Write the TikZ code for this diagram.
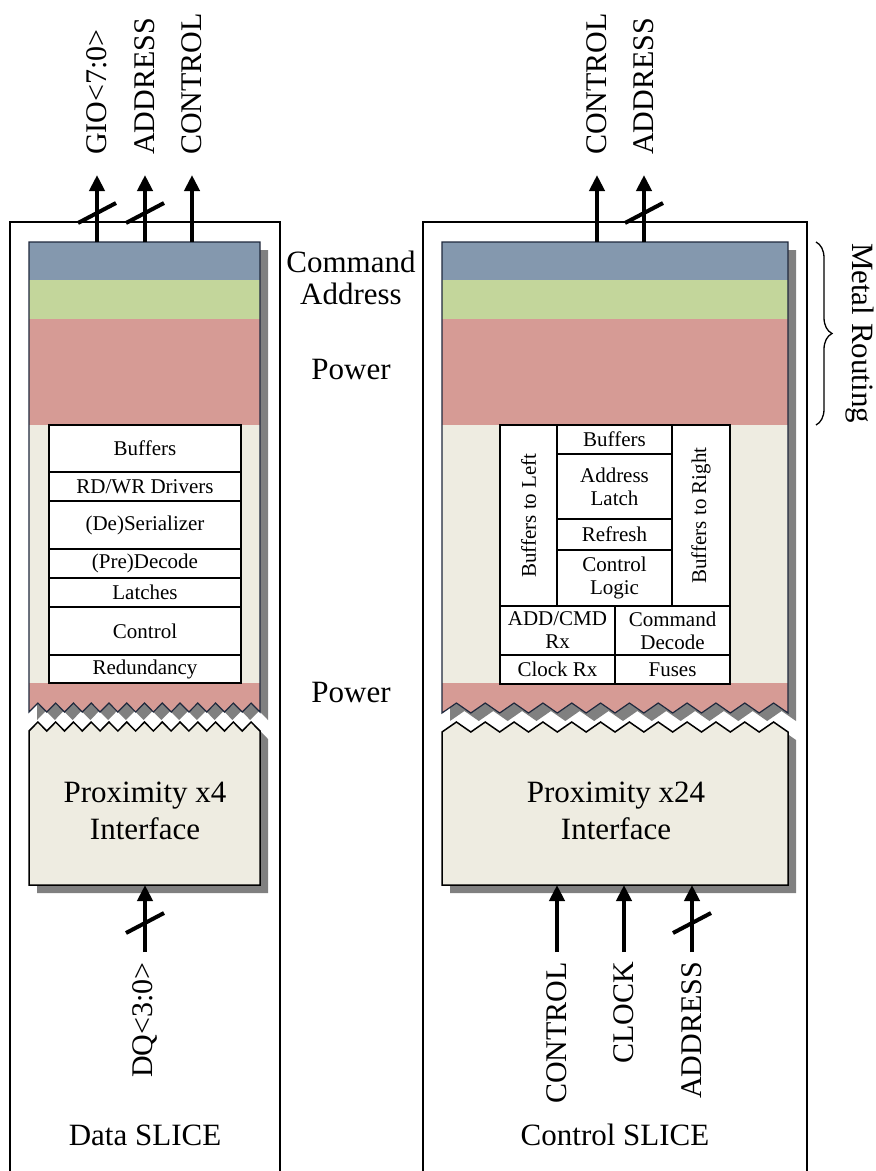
\documentclass[tikz,border=0pt]{standalone}
\usepackage{fontspec}
\setmainfont{Liberation Serif}
\usetikzlibrary{arrows.meta,decorations.pathreplacing,calc}
\definecolor{bandblue}{RGB}{132,152,174}
\definecolor{bandgreen}{RGB}{195,214,155}
\definecolor{bandred}{RGB}{214,155,149}
\definecolor{beige}{RGB}{238,236,225}
\definecolor{shadowgray}{RGB}{128,128,128}
\definecolor{edgeblue}{RGB}{30,40,60}
\newcommand\fsz[2]{\fontsize{#1}{#2}\selectfont}
\newcommand\cellbox[6]{\node[cell, minimum width={#4-#2}, minimum height={#5-#3}] (#1) at ({(#2+#4)/2},{(#3+#5)/2}) {#6};}
\tikzset{
  slicebox/.style={line width=1.5pt},
  conn/.style={line width=4pt, -{Triangle[width=15pt,length=16pt]}},
  busmark/.style={line width=4pt},
  cell/.style={draw, line width=1.6pt, fill=white, inner sep=0pt, align=center, font=\fsz{21}{23}},
  biglbl/.style={font=\fsz{30}{32}, inner sep=0pt},
  captext/.style={font=\fsz{31}{37}, inner sep=0pt, align=center},
  blockedge/.style={draw=edgeblue, line width=1.2pt},
  loweredge/.style={draw=black, line width=1.5pt},
}
\begin{document}
\begin{tikzpicture}[x=1pt,y=-1pt]
\useasboundingbox (0,0) rectangle (876,1171);
% outer slice frames
\draw[slicebox] (10,1175) -- (10,222) -- (280,222) -- (280,1175);
\draw[slicebox] (423,1175) -- (423,222) -- (807,222) -- (807,1175);

\def\LUpath{(29,242) -- (260,242) \foreach \i in {0,...,26}{ -- ({260-231*\i/26},{707.5+4.5*cos(180*\i)}) } -- cycle}
\def\LLpath{(29,885) -- (260,885) \foreach \i in {0,...,26}{ -- ({260-231*\i/26},{726.5+4.5*cos(180*\i)}) } -- cycle}
\def\RUpath{(442,242) -- (788,242) \foreach \i in {0,...,24}{ -- ({788-346*\i/24},{708+5*cos(180*\i)}) } -- cycle}
\def\RLpath{(442,885) -- (788,885) \foreach \i in {0,...,24}{ -- ({788-346*\i/24},{727+5*cos(180*\i)}) } -- cycle}

% ---------- left upper block ----------
\fill[shadowgray, shift={(8,8)}] \LUpath;
\fill[bandred] \LUpath;
\fill[bandblue] (29,242) rectangle (260,280);
\fill[bandgreen] (29,280) rectangle (260,319);
\fill[bandred] (29,319) rectangle (260,425);
\fill[beige] (29,425) rectangle (260,683);
\path[blockedge] \LUpath;

\fill[shadowgray, shift={(8,8)}] \LLpath;
\path[fill=beige, loweredge] \LLpath;

% ---------- right upper block ----------
\fill[shadowgray, shift={(8,8)}] \RUpath;
\fill[bandred] \RUpath;
\fill[bandblue] (442,242) rectangle (788,280);
\fill[bandgreen] (442,280) rectangle (788,319);
\fill[bandred] (442,319) rectangle (788,425);
\fill[beige] (442,425) rectangle (788,683);
\path[blockedge] \RUpath;

\fill[shadowgray, shift={(8,8)}] \RLpath;
\path[fill=beige, loweredge] \RLpath;

% ---------- left cells ----------
\cellbox{lbuf}{49}{425}{241}{472}{Buffers}
\cellbox{lrdwr}{49}{472}{241}{501}{RD/WR Drivers}
\cellbox{lser}{49}{501}{241}{549}{(De)Serializer}
\cellbox{lpre}{49}{549}{241}{578}{(Pre)Decode}
\cellbox{llat}{49}{578}{241}{607}{Latches}
\cellbox{lctl}{49}{607}{241}{655}{Control}
\cellbox{lred}{49}{655}{241}{683}{Redundancy}

% ---------- right cells ----------
\cellbox{rbtl}{500}{425}{557}{606}{}
\node[font=\fsz{21}{23}, rotate=90, inner sep=0pt] (rbtlT) at (rbtl.center) {Buffers to Left};
\cellbox{rbuf}{557}{425}{672}{454}{Buffers}
\cellbox{rlat}{557}{454}{672}{519}{Address\\Latch}
\cellbox{rref}{557}{519}{672}{550}{Refresh}
\cellbox{rctl}{557}{550}{672}{606}{Control\\Logic}
\cellbox{rbtr}{672}{425}{730}{606}{}
\node[font=\fsz{21}{23}, rotate=90, inner sep=0pt] (rbtrT) at (rbtr.center) {Buffers to Right};
\cellbox{radd}{500}{606}{615}{655}{ADD/CMD\\Rx}
\cellbox{rcmd}{615}{606}{730}{655}{Command\\Decode}
\cellbox{rclk}{500}{655}{615}{684}{Clock Rx}
\cellbox{rfus}{615}{655}{730}{684}{Fuses}

% ---------- lower block captions ----------
\node[captext] (prox1) at (145,811) {Proximity x4\\Interface};
\node[captext] (prox2) at (616,811) {Proximity x24\\Interface};

% ---------- middle texts ----------
\node[captext] (cmdT) at (351,262) {Command};
\node[captext] (addrT) at (351,294) {Address};
\node[captext] (pwr1) at (351,369) {Power};
\node[captext] (pwr2) at (351,692) {Power};

% ---------- metal routing brace ----------
\draw[line width=1.3pt, decorate, decoration={brace, amplitude=16pt}] (816,242) -- (816,425);
\node[captext, rotate=-90] (metal) at (860,333) {Metal Routing};

% ---------- top arrows, left ----------
\coordinate (lt1) at (97,242);
\coordinate (lt2) at (145,242);
\coordinate (lt3) at (192,242);
\node[biglbl, rotate=90, anchor=west] (gio) at (97,155) {GIO<7:0>};
\node[biglbl, rotate=90, anchor=west] (ladr) at (145,155) {ADDRESS};
\node[biglbl, rotate=90, anchor=west] (lctlT) at (192,155) {CONTROL};
\draw[conn, shorten >=20pt] (lt1) -- (gio.west);
\draw[conn, shorten >=20pt] (lt2) -- (ladr.west);
\draw[conn, shorten >=20pt] (lt3) -- (lctlT.west);
\coordinate (s1) at (97,213);
\coordinate (s2) at (145,213);
\draw[busmark] ([shift={(-19,10)}]s1) -- ([shift={(19,-10)}]s1);
\draw[busmark] ([shift={(-19,10)}]s2) -- ([shift={(19,-10)}]s2);

% ---------- top arrows, right ----------
\coordinate (rt1) at (597,242);
\coordinate (rt2) at (644,242);
\node[biglbl, rotate=90, anchor=west] (rctlT) at (597,155) {CONTROL};
\node[biglbl, rotate=90, anchor=west] (radrT) at (644,155) {ADDRESS};
\draw[conn, shorten >=20pt] (rt1) -- (rctlT.west);
\draw[conn, shorten >=20pt] (rt2) -- (radrT.west);
\coordinate (s3) at (644,213);
\draw[busmark] ([shift={(-19,10)}]s3) -- ([shift={(19,-10)}]s3);

% ---------- bottom arrows, left ----------
\coordinate (lb1) at (145,885);
\node[biglbl, rotate=90, anchor=east] (dq) at (145,962) {DQ<3:0>};
\draw[conn, shorten <=10pt] (dq.east) -- (lb1);
\coordinate (s4) at (145,923);
\draw[busmark] ([shift={(-19,10)}]s4) -- ([shift={(19,-10)}]s4);

% ---------- bottom arrows, right ----------
\coordinate (rb1) at (557,885);
\coordinate (rb2) at (624,885);
\coordinate (rb3) at (692,885);
\node[biglbl, rotate=90, anchor=east] (bctl) at (557,962) {CONTROL};
\node[biglbl, rotate=90, anchor=east] (bclk) at (624,962) {CLOCK};
\node[biglbl, rotate=90, anchor=east] (badr) at (692,962) {ADDRESS};
\draw[conn, shorten <=10pt] (bctl.east) -- (rb1);
\draw[conn, shorten <=10pt] (bclk.east) -- (rb2);
\draw[conn, shorten <=10pt] (badr.east) -- (rb3);
\coordinate (s5) at (692,923);
\draw[busmark] ([shift={(-19,10)}]s5) -- ([shift={(19,-10)}]s5);

% ---------- slice captions ----------
\node[captext] (dslice) at (145,1135) {Data SLICE};
\node[captext] (cslice) at (615,1135) {Control SLICE};
\end{tikzpicture}
\end{document}
